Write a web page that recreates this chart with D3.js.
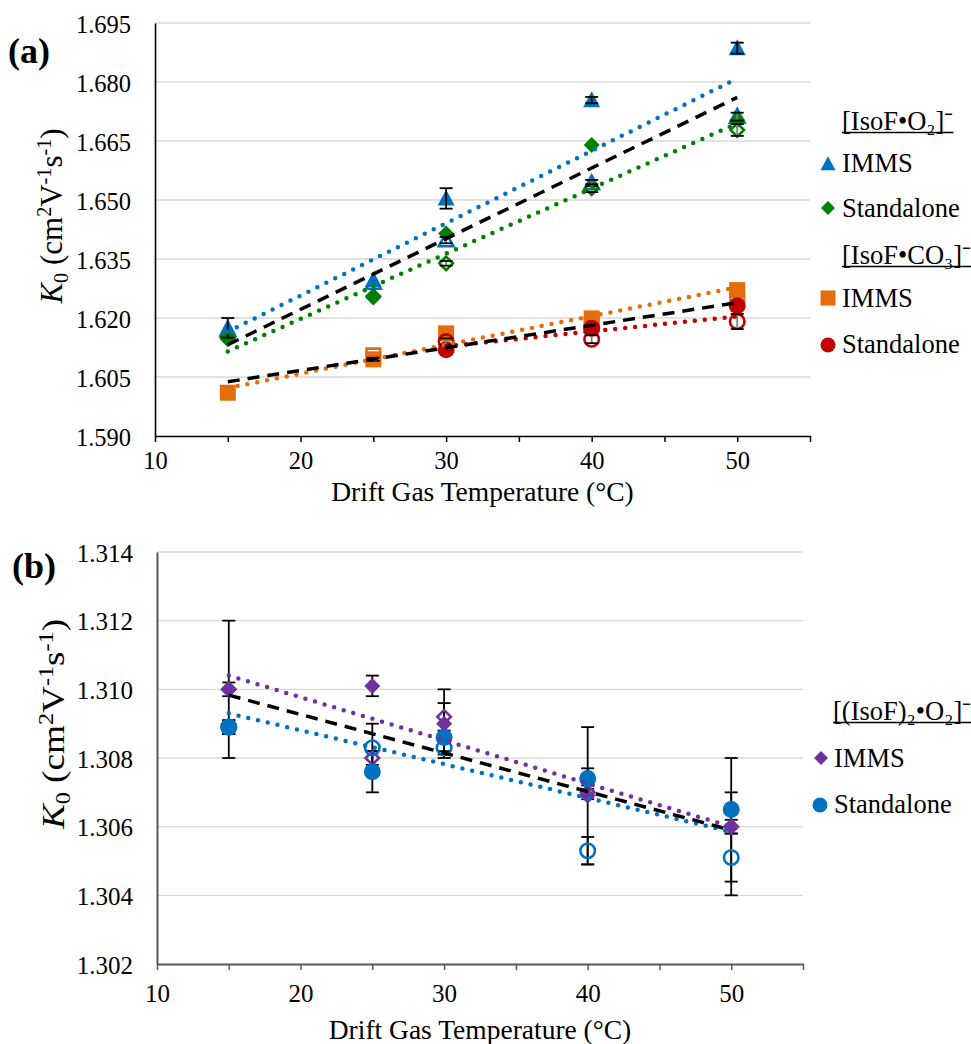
<!DOCTYPE html>
<html><head><meta charset="utf-8">
<script src="https://cdn.jsdelivr.net/npm/d3@7"></script>
<style>body{margin:0;background:#fff} svg{display:block}</style>
</head><body>
<svg id="c" width="971" height="1044"></svg>
<script>
// ---------- data ----------
const temps = [15, 25, 30, 40, 50];
const xTickValues = [10, 15, 20, 25, 30, 35, 40, 45, 50, 55];
const xTickLabels = [10, 20, 30, 40, 50];
const yTicksA = [1.590, 1.605, 1.620, 1.635, 1.650, 1.665, 1.680, 1.695];
const yTicksB = [1.302, 1.304, 1.306, 1.308, 1.310, 1.312, 1.314];

// Panel (a): [IsoF•O2]-
const o2ImmsFilled = [1.6175, 1.6297, 1.6504, 1.6754, 1.6886];
const o2ImmsFilledErr = [0.0025, null, 0.0026, 0.0008, 0.0014];
const o2ImmsOpen = [1.6170, 1.6290, 1.6398, 1.6543, 1.6712];
const o2ImmsOpenErr = [null, null, 0.0008, 0.0008, 0.0010];
const o2StdFilled = [1.6146, 1.6252, 1.6415, 1.6640, 1.6703];
const o2StdFilledErr = [null, null, null, null, null];
const o2StdOpen = [1.6150, 1.6255, 1.6339, 1.6530, 1.6678];
const o2StdOpenErr = [null, null, 0.0006, 0.0010, 0.0015];
// Panel (a): [IsoF•CO3]-
const co3ImmsFilled = [1.6010, 1.6095, 1.6161, 1.6199, 1.6271];
const co3ImmsFilledErr = [null, 0.0004, null, null, null];
const co3ImmsOpen = [null, 1.6105, null, 1.6185, 1.6246];
const co3ImmsOpenErr = [null, null, null, null, null];
const co3StdFilled = [null, null, 1.6119, 1.6174, 1.6231];
const co3StdFilledErr = [null, null, null, null, null];
const co3StdOpen = [null, null, 1.6140, 1.6146, 1.6191];
const co3StdOpenErr = [null, null, 0.0008, 0.0010, 0.0019];
// Panel (a) trend lines: [x, K0] end points
const trendO2Imms = [[15, 1.6165], [50, 1.6809]];
const trendO2Std = [[15, 1.6115], [50, 1.6695]];
const trendO2All = [[15, 1.6132], [50, 1.6761]];
const trendCo3Imms = [[15, 1.6022], [50, 1.6278]];
const trendCo3Std = [[30, 1.6128], [50, 1.6204]];
const trendCo3All = [[15, 1.6038], [50, 1.6239]];

// Panel (b): [(IsoF)2•O2]-
const dimImmsFilled = [1.3100, 1.3101, 1.3090, 1.3069, 1.3060];
const dimImmsFilledErr = [0.0020, 0.0003, 0.0010, 0.0020, 0.0020];
const dimImmsOpen = [1.3100, 1.3080, 1.3092, 1.3070, 1.3060];
const dimImmsOpenErr = [0.0002, 0.0002, 0.0004, 0.0002, 0.0002];
const dimStdFilled = [1.3089, 1.3076, 1.3086, 1.3074, 1.3065];
const dimStdFilledErr = [0.0002, 0.0006, 0.0004, 0.0003, 0.0005];
const dimStdOpen = [1.3089, 1.3083, 1.3083, 1.3053, 1.3051];
const dimStdOpenErr = [0.0002, 0.0007, 0.0002, 0.0004, 0.0007];
const trendDimImms = [[15, 1.3104], [50, 1.3060]];
const trendDimStd = [[15, 1.3093], [50, 1.30585]];
const trendDimAll = [[15, 1.30983], [50, 1.3059]];

// ---------- styling ----------
const FONT = "'Liberation Serif','Times New Roman',Times,serif";
const C = {blue: '#0070C0', green: '#008000', orange: '#E46C0A', red: '#C00000', purple: '#7030A0'};

function shape(type, s) {
  const h = s / 2;
  if (type === 'triangle') return `M0,${-s*0.52}L${h},${s*0.42}L${-h},${s*0.42}Z`;
  if (type === 'diamond') return `M0,${-h}L${h},0L0,${h}L${-h},0Z`;
  if (type === 'square') return `M${-h},${-h}H${h}V${h}H${-h}Z`;
  return `M${h},0A${h},${h} 0 1,1 ${-h},0A${h},${h} 0 1,1 ${h},0Z`;
}

const svg = d3.select('#c');

function panel(cfg) {
  const g = svg.append('g');
  const x = d3.scaleLinear().domain([10, 55]).range(cfg.xr);
  const y = d3.scaleLinear().domain(cfg.yd).range(cfg.yr);

  g.append('g').selectAll('line').data(cfg.yTicks.slice(1)).join('line')
    .attr('x1', cfg.xr[0]).attr('x2', cfg.xr[1])
    .attr('y1', d => y(d)).attr('y2', d => y(d))
    .attr('stroke', '#D9D9D9').attr('stroke-width', 1.3);

  const ya = g.append('g').attr('transform', `translate(${cfg.xr[0]},0)`)
    .call(d3.axisLeft(y).tickValues(cfg.yTicks).tickSize(0).tickFormat(d3.format('.3f')));
  ya.attr('font-family', FONT);
  ya.select('.domain').attr('stroke', cfg.axisColor).attr('stroke-width', cfg.axisW);
  ya.selectAll('text').attr('font-family', FONT).attr('font-size', cfg.tickFs).attr('fill', '#000')
    .attr('x', cfg.yLabX).attr('dy', null).attr('y', cfg.yLabDy);

  const xa = g.append('g').attr('transform', `translate(0,${cfg.yr[0]})`)
    .call(d3.axisBottom(x).tickValues(xTickValues).tickSize(6).tickSizeOuter(0)
      .tickFormat(d => xTickLabels.includes(d) ? d : ''));
  xa.attr('font-family', FONT);
  xa.select('.domain').attr('stroke', cfg.axisColor).attr('stroke-width', cfg.axisW);
  xa.selectAll('.tick line').attr('stroke', cfg.axisColor).attr('stroke-width', 1.5);
  xa.selectAll('text').attr('font-family', FONT).attr('font-size', cfg.tickFs).attr('fill', '#000')
    .attr('y', cfg.xLabY).attr('dy', null);

  g.append('text').attr('x', (cfg.xr[0] + cfg.xr[1]) / 2).attr('y', cfg.xTitleY)
    .attr('text-anchor', 'middle').attr('font-family', FONT).attr('font-size', 27.5)
    .text('Drift Gas Temperature (°C)');

  const fs = cfg.yTitleFs, sub = fs * 0.65;
  const yt = g.append('text')
    .attr('transform', `translate(${cfg.yTitleX},${cfg.yTitleY}) rotate(-90) scale(${cfg.yTitleStretch},1)`)
    .attr('text-anchor', 'middle').attr('font-family', FONT).attr('font-size', fs);
  yt.append('tspan').attr('font-style', 'italic').text('K');
  yt.append('tspan').attr('font-size', sub).attr('dy', fs * 0.2).text('0');
  yt.append('tspan').attr('dy', -fs * 0.2).text(' (cm');
  yt.append('tspan').attr('font-size', sub).attr('dy', -fs * 0.35).text('2');
  yt.append('tspan').attr('dy', fs * 0.35).text('V');
  yt.append('tspan').attr('font-size', sub).attr('dy', -fs * 0.35).text('-1');
  yt.append('tspan').attr('dy', fs * 0.35).text('s');
  yt.append('tspan').attr('font-size', sub).attr('dy', -fs * 0.35).text('-1');
  yt.append('tspan').attr('dy', fs * 0.35).text(')');

  g.append('text').attr('x', cfg.labX).attr('y', cfg.labY).attr('font-family', FONT)
    .attr('font-weight', 'bold').attr('font-size', 36).text(cfg.label);

  const errLayer = g.append('g');
  const markLayer = g.append('g');
  const trendLayer = g.append('g');
  if (cfg.errBelow) { errLayer.raise(); markLayer.raise(); trendLayer.raise(); }
  else { markLayer.raise(); errLayer.raise(); trendLayer.raise(); }

  cfg.series.forEach(s => {
    const pts = temps.map((t, i) => ({t, v: s.values[i], e: s.err ? s.err[i] : null}))
      .filter(d => d.v != null);
    markLayer.append('g').selectAll('path').data(pts).join('path')
      .attr('transform', d => `translate(${x(d.t)},${y(d.v)})`)
      .attr('d', shape(s.type, s.open ? s.size - 2.5 : s.size))
      .attr('fill', s.open ? 'none' : s.color)
      .attr('stroke', s.color).attr('stroke-width', s.open ? 2.6 : 0);
    const eb = errLayer.append('g').attr('stroke', s.errColor).attr('stroke-width', 1.8);
    pts.filter(d => d.e).forEach(d => {
      const cx = x(d.t), y1 = y(d.v + d.e), y2 = y(d.v - d.e);
      eb.append('line').attr('x1', cx).attr('x2', cx).attr('y1', y1).attr('y2', y2);
      eb.append('line').attr('x1', cx - 6.5).attr('x2', cx + 6.5).attr('y1', y1).attr('y2', y1).attr('stroke', '#000');
      eb.append('line').attr('x1', cx - 6.5).attr('x2', cx + 6.5).attr('y1', y2).attr('y2', y2).attr('stroke', '#000');
    });
  });

  cfg.trends.forEach(tr => {
    trendLayer.append('path')
      .attr('d', d3.line().x(d => x(d[0])).y(d => y(d[1]))(tr.pts))
      .attr('fill', 'none').attr('stroke', tr.color)
      .attr('stroke-width', tr.dash ? 3.5 : 4.5)
      .attr('stroke-linecap', tr.dash ? 'butt' : 'round')
      .attr('stroke-dasharray', tr.dash ? '12,8' : '0,10');
  });

  const lg = g.append('g').attr('font-family', FONT).attr('font-size', 26.5);
  cfg.legend.forEach(it => {
    if (it.header) {
      const t = lg.append('text').attr('x', it.tx).attr('y', it.y).text(it.header);
      const w = t.node().getComputedTextLength();
      lg.append('line').attr('x1', it.tx).attr('x2', it.tx + w)
        .attr('y1', it.y + 2.5).attr('y2', it.y + 2.5).attr('stroke', '#000').attr('stroke-width', 1.3);
    } else {
      lg.append('path').attr('transform', `translate(${it.mx},${it.my})`)
        .attr('d', shape(it.type, it.size)).attr('fill', it.color);
      lg.append('text').attr('x', it.tx).attr('y', it.y).text(it.text);
    }
  });
}

panel({
  label: '(a)', labX: 8, labY: 63,
  xr: [155, 810], yd: [1.590, 1.695], yr: [436, 23], yTicks: yTicksA,
  axisColor: '#000', axisW: 1.6, tickFs: 24.5,
  yLabX: -24, yLabDy: 9.5, xLabY: 33, xTitleY: 501,
  yTitleX: 62, yTitleY: 216, yTitleFs: 31, yTitleStretch: 1,
  series: [
    {values: o2ImmsOpen, err: o2ImmsOpenErr, type: 'triangle', color: C.blue, open: true, size: 17, errColor: '#7F7F7F'},
    {values: o2ImmsFilled, err: o2ImmsFilledErr, type: 'triangle', color: C.blue, open: false, size: 17, errColor: '#000'},
    {values: o2StdOpen, err: o2StdOpenErr, type: 'diamond', color: C.green, open: true, size: 16, errColor: '#7F7F7F'},
    {values: o2StdFilled, err: o2StdFilledErr, type: 'diamond', color: C.green, open: false, size: 16, errColor: '#000'},
    {values: co3ImmsOpen, err: co3ImmsOpenErr, type: 'square', color: C.orange, open: true, size: 16, errColor: '#7F7F7F'},
    {values: co3ImmsFilled, err: co3ImmsFilledErr, type: 'square', color: C.orange, open: false, size: 16, errColor: '#000'},
    {values: co3StdOpen, err: co3StdOpenErr, type: 'circle', color: C.red, open: true, size: 17, errColor: '#7F7F7F'},
    {values: co3StdFilled, err: co3StdFilledErr, type: 'circle', color: C.red, open: false, size: 17, errColor: '#000'}
  ],
  trends: [
    {pts: trendO2Imms, color: C.blue}, {pts: trendO2Std, color: C.green},
    {pts: trendO2All, color: '#000', dash: true},
    {pts: trendCo3Imms, color: C.orange}, {pts: trendCo3Std, color: C.red},
    {pts: trendCo3All, color: '#000', dash: true}
  ],
  legend: [
    {header: '[IsoF•O₂]⁻', tx: 842, y: 130},
    {text: 'IMMS', type: 'triangle', color: C.blue, size: 15, mx: 828, my: 164, tx: 842, y: 172},
    {text: 'Standalone', type: 'diamond', color: C.green, size: 14, mx: 828, my: 208, tx: 842, y: 217},
    {header: '[IsoF•CO₃]⁻', tx: 842, y: 264},
    {text: 'IMMS', type: 'square', color: C.orange, size: 15, mx: 828, my: 298, tx: 842, y: 307},
    {text: 'Standalone', type: 'circle', color: C.red, size: 15, mx: 828, my: 345, tx: 842, y: 353}
  ]
});

panel({
  label: '(b)', labX: 12, labY: 578,
  xr: [157, 803], yd: [1.302, 1.314], yr: [964, 552], yTicks: yTicksB,
  axisColor: '#595959', axisW: 2, tickFs: 25,
  yLabX: -24, yLabDy: 9, xLabY: 38, xTitleY: 1039,
  yTitleX: 64, yTitleY: 724, yTitleFs: 31, yTitleStretch: 1.2,
  errBelow: true,
  series: [
    {values: dimImmsOpen, err: dimImmsOpenErr, type: 'diamond', color: C.purple, open: true, size: 16, errColor: '#000'},
    {values: dimImmsFilled, err: dimImmsFilledErr, type: 'diamond', color: C.purple, open: false, size: 16, errColor: '#000'},
    {values: dimStdOpen, err: dimStdOpenErr, type: 'circle', color: C.blue, open: true, size: 17, errColor: '#000'},
    {values: dimStdFilled, err: dimStdFilledErr, type: 'circle', color: C.blue, open: false, size: 17, errColor: '#000'}
  ],
  trends: [
    {pts: trendDimImms, color: C.purple}, {pts: trendDimStd, color: C.blue},
    {pts: trendDimAll, color: '#000', dash: true}
  ],
  legend: [
    {header: '[(IsoF)₂•O₂]⁻', tx: 833, y: 720},
    {text: 'IMMS', type: 'diamond', color: C.purple, size: 14, mx: 821, my: 758, tx: 834, y: 767},
    {text: 'Standalone', type: 'circle', color: C.blue, size: 15, mx: 820, my: 805, tx: 834, y: 813}
  ]
});
</script>
</body></html>
